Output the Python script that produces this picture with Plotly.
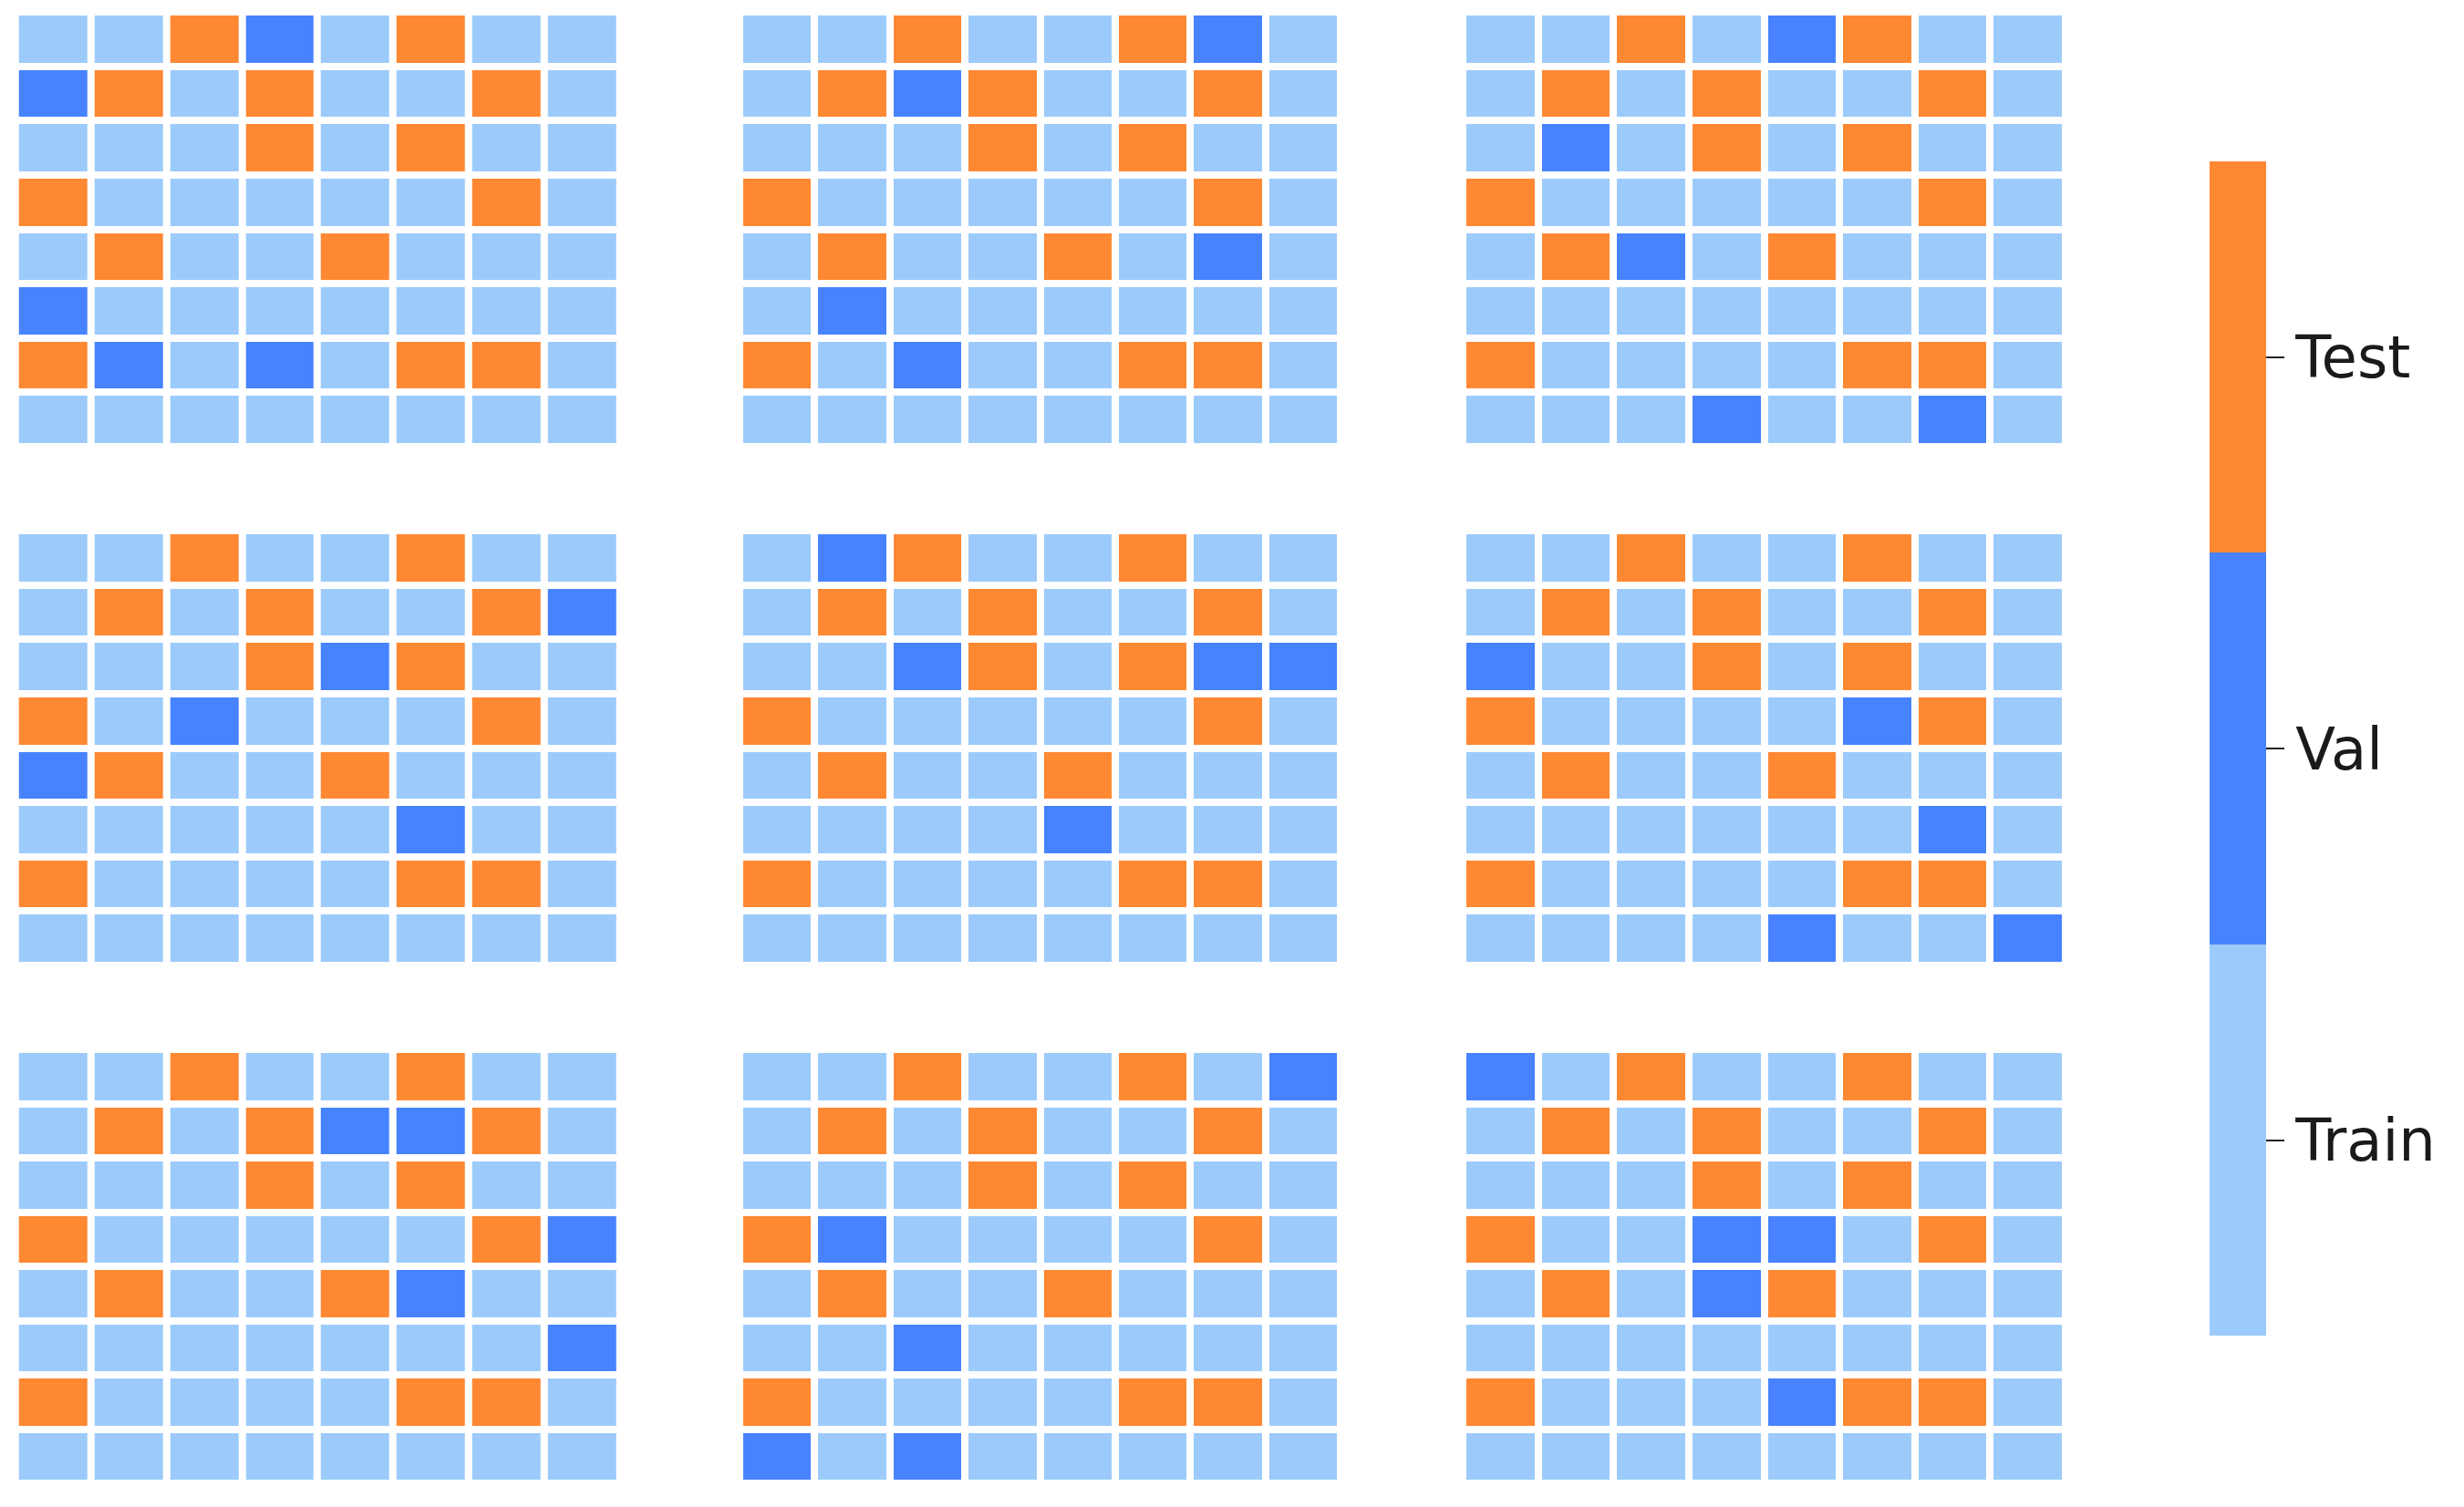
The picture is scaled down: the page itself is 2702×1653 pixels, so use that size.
import plotly.graph_objects as go

# Category labels (0 = Train, 1 = Val, 2 = Test)
class_labels = ["Train", "Val", "Test"]
class_values = [0, 1, 2]
class_colors = ["#9ccbfb", "#4783ff", "#ff8833"]

# Nine 8x8 split maps, row by row (top row first)
split_1 = [
    [0, 0, 2, 1, 0, 2, 0, 0],
    [1, 2, 0, 2, 0, 0, 2, 0],
    [0, 0, 0, 2, 0, 2, 0, 0],
    [2, 0, 0, 0, 0, 0, 2, 0],
    [0, 2, 0, 0, 2, 0, 0, 0],
    [1, 0, 0, 0, 0, 0, 0, 0],
    [2, 1, 0, 1, 0, 2, 2, 0],
    [0, 0, 0, 0, 0, 0, 0, 0],
]
split_2 = [
    [0, 0, 2, 0, 0, 2, 1, 0],
    [0, 2, 1, 2, 0, 0, 2, 0],
    [0, 0, 0, 2, 0, 2, 0, 0],
    [2, 0, 0, 0, 0, 0, 2, 0],
    [0, 2, 0, 0, 2, 0, 1, 0],
    [0, 1, 0, 0, 0, 0, 0, 0],
    [2, 0, 1, 0, 0, 2, 2, 0],
    [0, 0, 0, 0, 0, 0, 0, 0],
]
split_3 = [
    [0, 0, 2, 0, 1, 2, 0, 0],
    [0, 2, 0, 2, 0, 0, 2, 0],
    [0, 1, 0, 2, 0, 2, 0, 0],
    [2, 0, 0, 0, 0, 0, 2, 0],
    [0, 2, 1, 0, 2, 0, 0, 0],
    [0, 0, 0, 0, 0, 0, 0, 0],
    [2, 0, 0, 0, 0, 2, 2, 0],
    [0, 0, 0, 1, 0, 0, 1, 0],
]
split_4 = [
    [0, 0, 2, 0, 0, 2, 0, 0],
    [0, 2, 0, 2, 0, 0, 2, 1],
    [0, 0, 0, 2, 1, 2, 0, 0],
    [2, 0, 1, 0, 0, 0, 2, 0],
    [1, 2, 0, 0, 2, 0, 0, 0],
    [0, 0, 0, 0, 0, 1, 0, 0],
    [2, 0, 0, 0, 0, 2, 2, 0],
    [0, 0, 0, 0, 0, 0, 0, 0],
]
split_5 = [
    [0, 1, 2, 0, 0, 2, 0, 0],
    [0, 2, 0, 2, 0, 0, 2, 0],
    [0, 0, 1, 2, 0, 2, 1, 1],
    [2, 0, 0, 0, 0, 0, 2, 0],
    [0, 2, 0, 0, 2, 0, 0, 0],
    [0, 0, 0, 0, 1, 0, 0, 0],
    [2, 0, 0, 0, 0, 2, 2, 0],
    [0, 0, 0, 0, 0, 0, 0, 0],
]
split_6 = [
    [0, 0, 2, 0, 0, 2, 0, 0],
    [0, 2, 0, 2, 0, 0, 2, 0],
    [1, 0, 0, 2, 0, 2, 0, 0],
    [2, 0, 0, 0, 0, 1, 2, 0],
    [0, 2, 0, 0, 2, 0, 0, 0],
    [0, 0, 0, 0, 0, 0, 1, 0],
    [2, 0, 0, 0, 0, 2, 2, 0],
    [0, 0, 0, 0, 1, 0, 0, 1],
]
split_7 = [
    [0, 0, 2, 0, 0, 2, 0, 0],
    [0, 2, 0, 2, 1, 1, 2, 0],
    [0, 0, 0, 2, 0, 2, 0, 0],
    [2, 0, 0, 0, 0, 0, 2, 1],
    [0, 2, 0, 0, 2, 1, 0, 0],
    [0, 0, 0, 0, 0, 0, 0, 1],
    [2, 0, 0, 0, 0, 2, 2, 0],
    [0, 0, 0, 0, 0, 0, 0, 0],
]
split_8 = [
    [0, 0, 2, 0, 0, 2, 0, 1],
    [0, 2, 0, 2, 0, 0, 2, 0],
    [0, 0, 0, 2, 0, 2, 0, 0],
    [2, 1, 0, 0, 0, 0, 2, 0],
    [0, 2, 0, 0, 2, 0, 0, 0],
    [0, 0, 1, 0, 0, 0, 0, 0],
    [2, 0, 0, 0, 0, 2, 2, 0],
    [1, 0, 1, 0, 0, 0, 0, 0],
]
split_9 = [
    [1, 0, 2, 0, 0, 2, 0, 0],
    [0, 2, 0, 2, 0, 0, 2, 0],
    [0, 0, 0, 2, 0, 2, 0, 0],
    [2, 0, 0, 1, 1, 0, 2, 0],
    [0, 2, 0, 1, 2, 0, 0, 0],
    [0, 0, 0, 0, 0, 0, 0, 0],
    [2, 0, 0, 0, 1, 2, 2, 0],
    [0, 0, 0, 0, 0, 0, 0, 0],
]

splits = [split_1, split_2, split_3, split_4, split_5, split_6, split_7, split_8, split_9]

# Page geometry: the browser adds an 8px body margin around the figure
PAGE_W, PAGE_H = 2702, 1653
OFF = 8
W, H = PAGE_W - 2 * OFF, PAGE_H - 2 * OFF
GAP = 8
col_px = [(20.7, 675.5), (815.0, 1466.0), (1608.0, 2261.0)]
row_px = [(17.0, 486.0), (586.0, 1055.0), (1155.0, 1623.0)]


def fx(px):
    return (px - OFF) / W


def fy(py):
    return 1 - (py - OFF) / H


c0, c1, c2 = class_colors
colorscale = [
    [0.0, c0], [1 / 3, c0],
    [1 / 3, c1], [2 / 3, c1],
    [2 / 3, c2], [1.0, c2],
]

fig = go.Figure()
layout_axes = {}
for i, z in enumerate(splits):
    r, c = divmod(i, 3)
    n = i + 1
    xa = "x" if n == 1 else f"x{n}"
    ya = "y" if n == 1 else f"y{n}"
    xname = "xaxis" if n == 1 else f"xaxis{n}"
    yname = "yaxis" if n == 1 else f"yaxis{n}"
    x0, x1 = col_px[c]
    y0, y1 = row_px[r]
    fig.add_trace(go.Heatmap(
        z=z, coloraxis="coloraxis", xgap=GAP, ygap=GAP,
        xaxis=xa, yaxis=ya, hoverinfo="z",
    ))
    layout_axes[xname] = dict(
        domain=[fx(x0 - GAP / 2), fx(x1 + GAP / 2)],
        range=[-0.5, 7.5], visible=False, anchor=ya, fixedrange=True,
    )
    layout_axes[yname] = dict(
        domain=[fy(y1 + GAP / 2), fy(y0 - GAP / 2)],
        range=[7.5, -0.5], visible=False, anchor=xa, fixedrange=True,
    )

cb_top, cb_bot = 177.5, 1465.0
fig.update_layout(
    width=W, height=H,
    margin=dict(l=0, r=0, t=0, b=0),
    paper_bgcolor="white", plot_bgcolor="white",
    showlegend=False,
    coloraxis=dict(
        colorscale=colorscale, cmin=0, cmax=2,
        colorbar=dict(
            thickness=62, thicknessmode="pixels",
            len=cb_bot - cb_top, lenmode="pixels",
            x=fx(2423), xanchor="left",
            y=fy((cb_top + cb_bot) / 2), yanchor="middle",
            xpad=0, ypad=0, outlinewidth=0,
            tickvals=[1 / 3, 1, 5 / 3], ticktext=class_labels,
            ticks="outside", ticklen=20, tickwidth=2, tickcolor="#222222",
            tickfont=dict(family="DejaVu Sans", size=64, color="#1a1a1a"),
        ),
    ),
    **layout_axes,
)

fig.write_html("out.html")
